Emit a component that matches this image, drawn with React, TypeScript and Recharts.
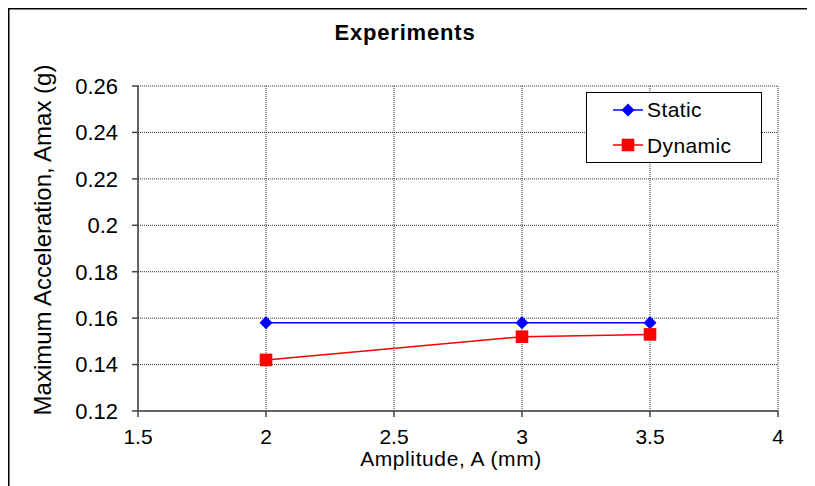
import { LineChart, Line, XAxis, YAxis, CartesianGrid } from "recharts";

const amplitudes = [2, 3, 3.5];
const staticAmax = [0.158, 0.158, 0.158];
const dynamicAmax = [0.142, 0.152, 0.153];
const xTicks = [1.5, 2, 2.5, 3, 3.5, 4];
const yTicks = [0.12, 0.14, 0.16, 0.18, 0.2, 0.22, 0.24, 0.26];
const seriesNames = ["Static", "Dynamic"];

const data = amplitudes.map((a, i) => ({ a, stat: staticAmax[i], dyn: dynamicAmax[i] }));

const FONT = "'Liberation Sans', Arial, sans-serif";
const W = 807;
const H = 478;

const Diamond = (p: any) => {
  const { cx, cy } = p;
  if (cx == null || cy == null) return null;
  return <path d={`M${cx},${cy - 6.5}L${cx + 6.5},${cy}L${cx},${cy + 6.5}L${cx - 6.5},${cy}Z`} fill="#0000ff" />;
};

const Square = (p: any) => {
  const { cx, cy } = p;
  if (cx == null || cy == null) return null;
  return <rect x={cx - 6.3} y={cy - 6.3} width={12.6} height={12.6} fill="#ff0000" />;
};

// title, axis titles, legend and frame drawn on top of the chart
const Overlay = () => (
  <svg width={W} height={H} style={{ position: "absolute", left: 0, top: 0, pointerEvents: "none" }} fontFamily={FONT}>
    <line x1={0} x2={W} y1={0.75} y2={0.75} stroke="#000" strokeWidth={1.5} />
    <line x1={0.75} x2={0.75} y1={0} y2={H} stroke="#000" strokeWidth={1.5} />
    <text x={397} y={32} textAnchor="middle" fontWeight="bold" fontSize={22} letterSpacing={0.8}>Experiments</text>
    <text x={443} y={458} textAnchor="middle" fontSize={21} letterSpacing={0.6}>Amplitude, A (mm)</text>
    <text transform="translate(43,232) rotate(-90)" textAnchor="middle" fontSize={24}>Maximum Acceleration, Amax (g)</text>
    <g transform="translate(578,84)">
      <rect x={0.5} y={0.5} width={175} height={70} fill="#fff" stroke="#000" strokeWidth={1} />
      <line x1={27} x2={57} y1={18} y2={18} stroke="#0000ff" strokeWidth={1.5} />
      <path d="M42,11.5L48.5,18L42,24.5L35.5,18Z" fill="#0000ff" />
      <text x={61} y={25} fontSize={21} letterSpacing={0.4}>{seriesNames[0]}</text>
      <line x1={27} x2={57} y1={53} y2={53} stroke="#ff0000" strokeWidth={1.5} />
      <rect x={35.7} y={46.7} width={12.6} height={12.6} fill="#ff0000" />
      <text x={61} y={61} fontSize={21} letterSpacing={0.4}>{seriesNames[1]}</text>
    </g>
  </svg>
);

export default function App() {
  return (
    <div style={{ position: "relative", width: W, height: H, background: "#fff", fontFamily: FONT }}>
      <LineChart width={W} height={H} data={data} margin={{ top: 78, right: 37, left: 0, bottom: 0 }}>
        <CartesianGrid stroke="#333" strokeDasharray="1 1" />
        <XAxis
          type="number"
          dataKey="a"
          domain={[1.5, 4]}
          ticks={xTicks}
          height={75}
          tickSize={6}
          tickMargin={12}
          stroke="#444"
          strokeWidth={1.5}
          tick={{ fill: "#000", fontSize: 21, fontFamily: FONT }}
        />
        <YAxis
          type="number"
          domain={[0.12, 0.26]}
          ticks={yTicks}
          width={130}
          tickSize={6}
          tickMargin={14}
          stroke="#444"
          strokeWidth={1.5}
          tick={{ fill: "#000", fontSize: 22, fontFamily: FONT }}
        />
        <Line dataKey="stat" name={seriesNames[0]} stroke="#0000ff" strokeWidth={1.5} dot={<Diamond />} isAnimationActive={false} />
        <Line dataKey="dyn" name={seriesNames[1]} stroke="#ff0000" strokeWidth={1.5} dot={<Square />} isAnimationActive={false} />
      </LineChart>
      <Overlay />
    </div>
  );
}
